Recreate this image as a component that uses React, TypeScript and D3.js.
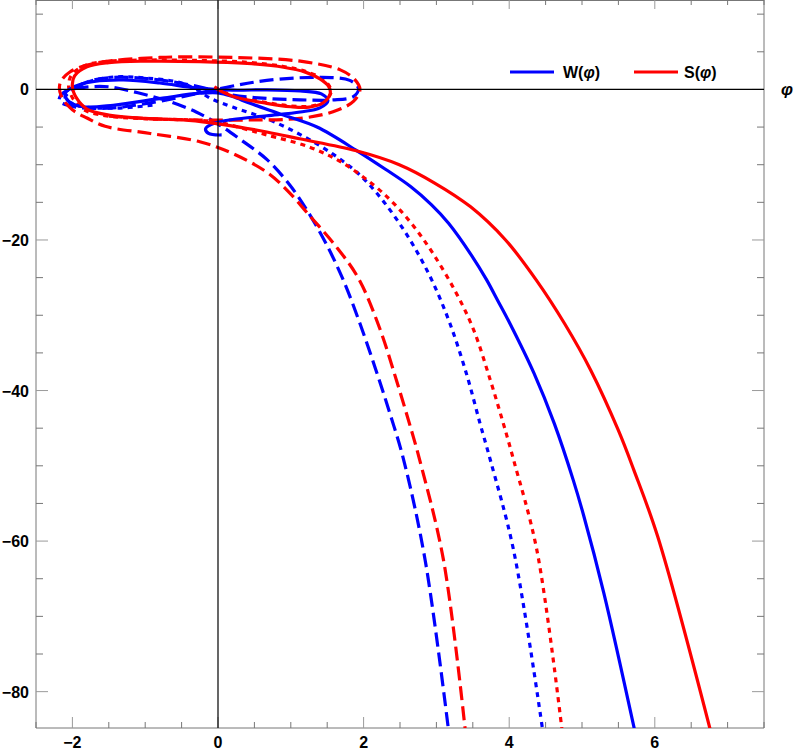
import React from "react";
import * as d3 from "d3";

// ---------- data ----------
const xMajorTicks = [-2, 0, 2, 4, 6];
const yMajorTicks = [-80, -60, -40, -20, 0];
const xMinorTicks = [-2.5, -1.5, -1, -0.5, 0.5, 1, 1.5, 2.5, 3, 3.5, 4.5, 5, 5.5, 6.5, 7, 7.5];
const yMinorTicks = [-75, -70, -65, -55, -50, -45, -35, -30, -25, -15, -10, -5, 5, 10];

const blueSolid: [number, number][] = [
  [0.05, -6.05], [-0.13, -5.85], [-0.17, -5.2], [-0.05, -4.5], [0.2, -4.0], [0.67, -3.5], [1.13, -3.0],
  [1.4, -2.45], [1.51, -1.5], [1.42, -0.6], [1.13, -0.2], [0.67, -0.05], [0.2, -0.1], [-0.3, 0.2],
  [-0.8, 0.85], [-1.3, 1.25], [-1.7, 1.05], [-1.97, 0.4], [-2.1, -0.6], [-2.05, -1.6], [-1.85, -2.3],
  [-1.44, -2.1], [-0.76, -1.15], [-0.25, -0.5], [0.0, -0.45], [0.2, -0.95], [0.44, -1.85], [0.9, -3.4],
  [1.36, -5.0], [1.91, -8.15], [2.3, -10.6], [2.645, -12.9], [2.93, -15.3], [3.17, -17.8], [3.48, -22.0],
  [3.69, -25.3], [3.84, -28.0], [4.01, -31.1], [4.34, -37.7], [4.62, -44.4], [4.88, -51.9],
  [5.02, -56.5], [5.3, -66.9], [5.72, -85],
];
const blueDashed: [number, number][] = [
  [-1.95, 0.3], [-1.75, 1.15], [-1.44, 1.6], [-0.98, 1.45], [-0.52, 0.85], [-0.1, 0.0], [0.2, -0.75],
  [0.67, -1.2], [1.13, -1.38], [1.58, -1.4], [1.86, -0.95], [1.93, 0.1], [1.81, 1.2], [1.36, 1.6],
  [0.67, 1.2], [0.2, 0.45], [-0.2, -0.35], [-0.6, -1.2], [-1.07, -2.0], [-1.44, -2.45], [-1.95, -2.35],
  [-2.18, -1.5], [-2.12, -0.4], [-1.9, 0.2], [-1.5, 0.35], [-1.1, -0.45], [-0.7, -1.5], [-0.3, -3.0],
  [0.0, -4.6], [0.3, -6.6], [0.67, -9.3], [0.97, -12.5], [1.22, -16.0], [1.48, -20.4], [1.72, -25.3],
  [1.95, -31.1], [2.17, -37.3], [2.36, -43.0], [2.55, -49.2], [2.845, -62.5], [3.165, -85],
];
const blueDotted: [number, number][] = [
  [-0.9, -2.1], [-1.44, -2.5], [-1.9, -2.2], [-2.1, -1.2], [-2.0, 0.0], [-1.8, 0.95], [-1.44, 1.65],
  [-0.98, 1.5], [-0.52, 0.9], [-0.3, 0.0], [-0.1, -1.2], [0.2, -2.35], [0.67, -3.9], [1.13, -6.0],
  [1.58, -8.6], [1.93, -11.2], [2.2, -14.0], [2.45, -17.2], [2.7, -21.0], [2.95, -25.6], [3.19, -31.2],
  [3.42, -38.0], [3.6, -44.4], [3.74, -49.2], [4.06, -61.2], [4.458, -85],
];
const redSolid: [number, number][] = [
  [-0.05, 0.25], [0.2, -0.9], [0.67, -1.85], [1.0, -2.3], [1.25, -2.35], [1.44, -1.8], [1.54, -0.6],
  [1.52, 0.4], [1.4, 1.4], [1.2, 2.3], [0.9, 2.95], [0.4, 3.45], [-0.25, 3.7], [-1.0, 3.75],
  [-1.5, 3.55], [-1.8, 3.0], [-1.97, 1.8], [-2.0, 0.3], [-1.94, -1.2], [-1.8, -2.6], [-1.5, -3.4],
  [-1.0, -3.85], [-0.4, -4.1], [0.03, -4.6], [0.67, -5.65], [1.12, -6.55], [1.9, -8.15], [2.49, -10.0],
  [2.97, -12.4], [3.47, -15.6], [3.95, -20.0], [4.37, -25.3], [4.76, -31.1], [5.12, -37.3],
  [5.5, -45.3], [5.71, -50.5], [6.04, -59.4], [6.76, -85],
];
const redDashed: [number, number][] = [
  [-1.5, -3.55], [-1.0, -3.85], [-0.25, -4.06], [0.44, -4.06], [1.13, -3.84], [1.58, -2.96],
  [1.86, -1.6], [1.95, 0.0], [1.88, 1.3], [1.68, 2.6], [1.13, 3.75], [0.2, 4.25], [-0.8, 4.25],
  [-1.67, 3.5], [-2.03, 2.35], [-2.17, 0.8], [-2.15, -0.97], [-2.0, -2.7], [-1.8, -3.8],
  [-1.55, -4.9], [-0.93, -5.85], [-0.25, -6.95], [0.2, -8.5], [0.67, -11.0], [0.95, -13.4],
  [1.27, -16.9], [1.6, -20.6], [1.93, -25.1], [2.227, -31.9], [2.45, -38.6], [2.63, -44.4],
  [2.77, -49.2], [3.097, -62.5], [3.395, -85],
];
const redDotted: [number, number][] = [
  [-0.05, 0.35], [0.2, -0.8], [0.67, -1.75], [1.0, -2.2], [1.25, -2.25], [1.44, -1.7], [1.55, -0.5],
  [1.53, 0.45], [1.42, 1.5], [1.2, 2.4], [0.9, 3.05], [0.4, 3.6], [-0.25, 3.85], [-1.0, 3.9],
  [-1.55, 3.7], [-1.85, 3.1], [-2.02, 1.8], [-2.05, 0.2], [-1.98, -1.4], [-1.82, -2.8], [-1.5, -3.55],
  [-1.0, -3.9], [-0.4, -4.05], [0.0, -4.35], [0.44, -5.45], [0.67, -6.05], [1.24, -7.6], [1.7, -9.7],
  [2.15, -12.8], [2.42, -15.2], [2.69, -18.2], [2.96, -21.9], [3.27, -27.0], [3.51, -31.9],
  [3.74, -38.6], [3.92, -44.4], [4.06, -49.2], [4.38, -61.2], [4.724, -85],
];

const BLUE = "#0000ff";
const RED = "#ff0000";

const series = [
  { data: blueDotted, color: BLUE, dash: "5,5" },
  { data: redDotted, color: RED, dash: "5,5" },
  { data: blueDashed, color: BLUE, dash: "14,6" },
  { data: redDashed, color: RED, dash: "14,6" },
  { data: blueSolid, color: BLUE, dash: null },
  { data: redSolid, color: RED, dash: null },
];

const W = 797;
const H = 751;
const L = 36, R = 764, T = 0, B = 728;
const FONT = "'Liberation Sans', Arial, Helvetica, sans-serif";

const fmt = (v: number) => (v < 0 ? "\u2212" + Math.abs(v) : String(v));

export default function App() {
  const x = d3.scaleLinear().domain([-2.5, 7.5]).range([L, R]);
  const y = d3.scaleLinear().domain([-84.83, 11.88]).range([B, T]);
  const line = d3
    .line<[number, number]>()
    .x((d) => x(d[0]))
    .y((d) => y(d[1]))
    .curve(d3.curveCatmullRom.alpha(0.5));

  const frameColor = "#777";
  const minorColor = "#777";
  const majorColor = "#9a9a9a";

  return (
    <svg
      width={W}
      height={H}
      style={{ position: "absolute", left: 0, top: 0, background: "#fff" }}
      fontFamily={FONT}
    >
      <defs>
        <clipPath id="plotClip">
          <rect x={L} y={T} width={R - L} height={B - T} />
        </clipPath>
      </defs>
      <rect x={0} y={0} width={W} height={H} fill="#fff" />

      {/* frame */}
      <g stroke={frameColor} strokeWidth={1} fill="none">
        <line x1={L} y1={T} x2={L} y2={B} />
        <line x1={L} y1={B} x2={R} y2={B} />
        <line x1={R} y1={T} x2={R} y2={B} />
        <line x1={L} y1={T + 0.5} x2={R} y2={T + 0.5} />
      </g>

      {/* ticks */}
      <g strokeWidth={1}>
        {xMinorTicks.map((t) => (
          <g key={"xm" + t} stroke={minorColor}>
            <line x1={x(t)} x2={x(t)} y1={B} y2={B - 6} />
            <line x1={x(t)} x2={x(t)} y1={T} y2={T + 5} />
          </g>
        ))}
        {xMajorTicks.map((t) => (
          <g key={"xM" + t} stroke={majorColor}>
            <line x1={x(t)} x2={x(t)} y1={B} y2={B - 11} />
            <line x1={x(t)} x2={x(t)} y1={T} y2={T + 9} />
          </g>
        ))}
        {yMinorTicks.map((t) => (
          <g key={"ym" + t} stroke={minorColor}>
            <line x1={L} x2={L + 7} y1={y(t)} y2={y(t)} />
            <line x1={R} x2={R - 7} y1={y(t)} y2={y(t)} />
          </g>
        ))}
        {yMajorTicks.map((t) => (
          <g key={"yM" + t} stroke={majorColor}>
            <line x1={L} x2={L + 12} y1={y(t)} y2={y(t)} />
            <line x1={R} x2={R - 12} y1={y(t)} y2={y(t)} />
          </g>
        ))}
      </g>

      {/* tick labels */}
      <g fontSize={16} fontWeight="bold" fill="#000">
        {xMajorTicks.map((t) => (
          <text key={"xl" + t} x={x(t)} y={748} textAnchor="middle">
            {fmt(t)}
          </text>
        ))}
        {yMajorTicks.map((t) => (
          <text key={"yl" + t} x={29} y={y(t) + 6} textAnchor="end">
            {fmt(t)}
          </text>
        ))}
      </g>

      {/* curves */}
      <g clipPath="url(#plotClip)" fill="none">
        {series.map((s, i) => (
          <path
            key={i}
            d={line(s.data) || ""}
            stroke={s.color}
            strokeWidth={3.2}
            strokeDasharray={s.dash || undefined}
            strokeLinecap="butt"
            strokeLinejoin="round"
          />
        ))}
      </g>

      {/* axes */}
      <g stroke="#000" strokeWidth={1.2}>
        <line x1={L} x2={R} y1={y(0)} y2={y(0)} />
        <line x1={x(0)} x2={x(0)} y1={T} y2={B} />
      </g>

      {/* axis label */}
      <text x={781} y={y(0) + 6} fontSize={17} fontWeight="bold" fontStyle="italic" fill="#000">
        φ
      </text>

      {/* legend */}
      <g fontSize={16} fontWeight="bold" fill="#000">
        <line x1={510} x2={554} y1={72} y2={72} stroke={BLUE} strokeWidth={3.2} />
        <text x={563} y={77.5}>
          W(<tspan fontStyle="italic">φ</tspan>)
        </text>
        <line x1={634} x2={678} y1={72} y2={72} stroke={RED} strokeWidth={3.2} />
        <text x={684} y={77.5}>
          S(<tspan fontStyle="italic">φ</tspan>)
        </text>
      </g>
    </svg>
  );
}
